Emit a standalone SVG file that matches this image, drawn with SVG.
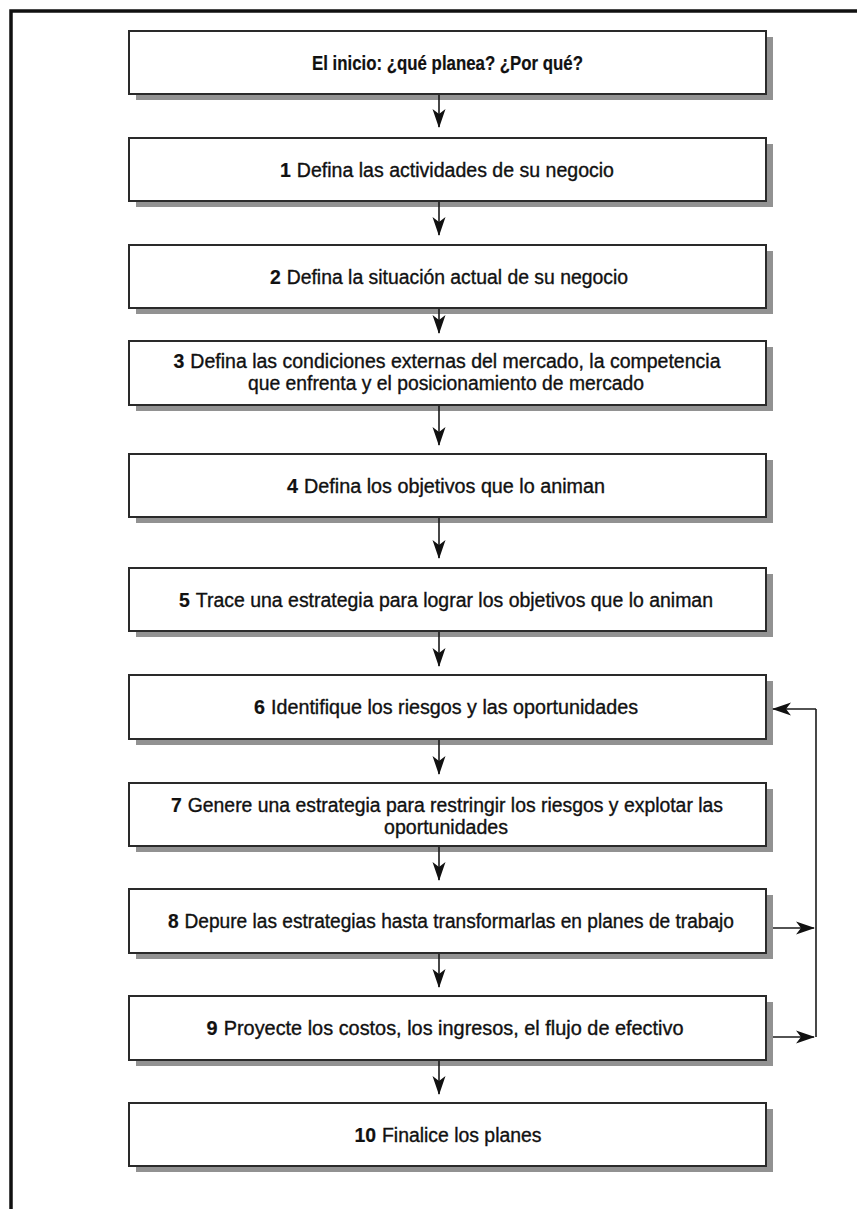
<svg xmlns="http://www.w3.org/2000/svg" width="857" height="1209" viewBox="0 0 857 1209">
<style>
.frame{fill:none;stroke:#111;stroke-width:3.5;stroke-linecap:square}
.shadow{fill:#929292}
.box{fill:#fff;stroke:#2a2a2a;stroke-width:2}
.t{font-family:"Liberation Sans Narrow","Liberation Sans",Arial,sans-serif;font-size:19.5px;fill:#111;stroke:#111;stroke-width:0.35;text-anchor:middle}
.n{font-weight:700;stroke-width:0.2}
.b{font-weight:700;stroke-width:0.2}
.c{fill:none;stroke:#1a1a1a;stroke-width:1.6}
</style>
<defs>
<marker id="ah" markerUnits="userSpaceOnUse" markerWidth="20" markerHeight="14" refX="18" refY="7" orient="auto">
<path d="M0,0.5 L19,7 L0,13.5 L5,7 Z" fill="#111"/>
</marker>
</defs>
<rect width="857" height="1209" fill="#fff"/>
<path class="frame" d="M11,1209 V11 H857"/>

<g id="start">
<rect class="shadow" x="136" y="37" width="637" height="63"/>
<rect class="box" x="129" y="31" width="637" height="63"/>
<text class="t b" x="447.5" y="69.5" textLength="271" lengthAdjust="spacingAndGlyphs">El inicio: ¿qué planea? ¿Por qué?</text>
</g>
<g id="step1">
<rect class="shadow" x="136" y="144" width="637" height="63"/>
<rect class="box" x="129" y="138" width="637" height="63"/>
<text class="t" x="447" y="176.5" textLength="334" lengthAdjust="spacingAndGlyphs"><tspan class="n">1</tspan><tspan dx="6">Defina las actividades de su negocio</tspan></text>
</g>
<g id="step2">
<rect class="shadow" x="136" y="251" width="637" height="63"/>
<rect class="box" x="129" y="245" width="637" height="63"/>
<text class="t" x="449" y="283.5" textLength="358" lengthAdjust="spacingAndGlyphs"><tspan class="n">2</tspan><tspan dx="6">Defina la situación actual de su negocio</tspan></text>
</g>
<g id="step3">
<rect class="shadow" x="136" y="347" width="637" height="64"/>
<rect class="box" x="129" y="341" width="637" height="64"/>
<text class="t" x="447" y="367.5" textLength="547" lengthAdjust="spacingAndGlyphs"><tspan class="n">3</tspan><tspan dx="6">Defina las condiciones externas del mercado, la competencia</tspan></text>
<text class="t" x="446" y="389.5" textLength="396" lengthAdjust="spacingAndGlyphs">que enfrenta y el posicionamiento de mercado</text>
</g>
<g id="step4">
<rect class="shadow" x="136" y="460" width="637" height="63"/>
<rect class="box" x="129" y="454" width="637" height="63"/>
<text class="t" x="446" y="492.5" textLength="318" lengthAdjust="spacingAndGlyphs"><tspan class="n">4</tspan><tspan dx="6">Defina los objetivos que lo animan</tspan></text>
</g>
<g id="step5">
<rect class="shadow" x="136" y="574" width="637" height="63"/>
<rect class="box" x="129" y="568" width="637" height="63"/>
<text class="t" x="446" y="606.5" textLength="534" lengthAdjust="spacingAndGlyphs"><tspan class="n">5</tspan><tspan dx="6">Trace una estrategia para lograr los objetivos que lo animan</tspan></text>
</g>
<g id="step6">
<rect class="shadow" x="136" y="681" width="637" height="64"/>
<rect class="box" x="129" y="675" width="637" height="64"/>
<text class="t" x="446" y="713.5" textLength="384" lengthAdjust="spacingAndGlyphs"><tspan class="n">6</tspan><tspan dx="6">Identifique los riesgos y las oportunidades</tspan></text>
</g>
<g id="step7">
<rect class="shadow" x="136" y="789" width="637" height="63"/>
<rect class="box" x="129" y="783" width="637" height="63"/>
<text class="t" x="447" y="811.5" textLength="552" lengthAdjust="spacingAndGlyphs"><tspan class="n">7</tspan><tspan dx="6">Genere una estrategia para restringir los riesgos y explotar las</tspan></text>
<text class="t" x="446" y="833.5" textLength="124" lengthAdjust="spacingAndGlyphs">oportunidades</text>
</g>
<g id="step8">
<rect class="shadow" x="136" y="895" width="637" height="64"/>
<rect class="box" x="129" y="889" width="637" height="64"/>
<text class="t" x="451" y="927.5" textLength="566" lengthAdjust="spacingAndGlyphs"><tspan class="n">8</tspan><tspan dx="6">Depure las estrategias hasta transformarlas en planes de trabajo</tspan></text>
</g>
<g id="step9">
<rect class="shadow" x="136" y="1002" width="637" height="64"/>
<rect class="box" x="129" y="996" width="637" height="64"/>
<text class="t" x="445" y="1034.5" textLength="477" lengthAdjust="spacingAndGlyphs"><tspan class="n">9</tspan><tspan dx="6">Proyecte los costos, los ingresos, el flujo de efectivo</tspan></text>
</g>
<g id="step10">
<rect class="shadow" x="136" y="1109" width="637" height="63"/>
<rect class="box" x="129" y="1103" width="637" height="63"/>
<text class="t" x="448" y="1141.5" textLength="187" lengthAdjust="spacingAndGlyphs"><tspan class="n">10</tspan><tspan dx="6">Finalice los planes</tspan></text>
</g>

<g id="connectors">
<path class="c" marker-end="url(#ah)" d="M439,95 V127"/>
<path class="c" marker-end="url(#ah)" d="M439,202 V235"/>
<path class="c" marker-end="url(#ah)" d="M439,309 V333"/>
<path class="c" marker-end="url(#ah)" d="M439,406 V445"/>
<path class="c" marker-end="url(#ah)" d="M439,518 V558"/>
<path class="c" marker-end="url(#ah)" d="M439,632 V666"/>
<path class="c" marker-end="url(#ah)" d="M439,740 V774"/>
<path class="c" marker-end="url(#ah)" d="M439,847 V880"/>
<path class="c" marker-end="url(#ah)" d="M439,954 V987"/>
<path class="c" marker-end="url(#ah)" d="M439,1061 V1094"/>
<path class="c" d="M816,1037 V709"/>
<path class="c" marker-end="url(#ah)" d="M816,709 H773"/>
<path class="c" marker-end="url(#ah)" d="M773,928 H814"/>
<path class="c" marker-end="url(#ah)" d="M773,1037 H814"/>
</g>
</svg>
